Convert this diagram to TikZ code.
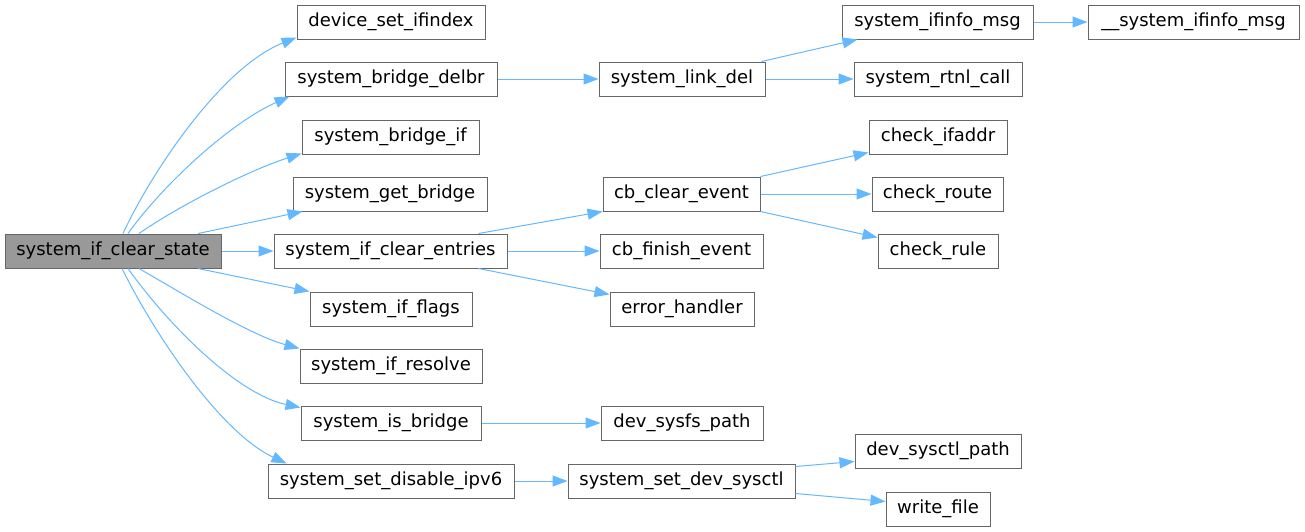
\documentclass[tikz,border=0pt]{standalone}
\usepackage{fontspec}
\setmainfont{DejaVu Sans}
\usetikzlibrary{arrows.meta}
\definecolor{edgeblue}{HTML}{63B8FF}
\definecolor{boxgray}{HTML}{666666}
\definecolor{rootfill}{HTML}{999999}
\begin{document}
\begin{tikzpicture}[x=1pt,y=-1pt,
  fn/.style={draw=boxgray,line width=1pt,fill=white,inner sep=0pt,minimum height=34pt,
    font=\fontsize{18pt}{20pt}\selectfont,text=black},
  rootbox/.style={fn,fill=rootfill},
  call/.style={draw=edgeblue,line width=1pt,-{Triangle[length=15pt,width=11pt]}}]
\useasboundingbox (0,0) rectangle (1305,531);
% column 0
\node[rootbox,minimum width=216pt] (root) at (113,251) {system\_if\_clear\_state};
% column 1
\node[fn,minimum width=188pt] (dsi) at (391,22) {device\_set\_ifindex};
\node[fn,minimum width=212pt] (sbd) at (391,79) {system\_bridge\_delbr};
\node[fn,minimum width=177pt] (sbi) at (390.5,137) {system\_bridge\_if};
\node[fn,minimum width=194pt] (sgb) at (390,194) {system\_get\_bridge};
\node[fn,minimum width=233pt] (sce) at (390.5,251) {system\_if\_clear\_entries};
\node[fn,minimum width=162pt] (sif) at (391,309) {system\_if\_flags};
\node[fn,minimum width=182pt] (sir) at (391,366) {system\_if\_resolve};
\node[fn,minimum width=180pt] (sib) at (391,423) {system\_is\_bridge};
\node[fn,minimum width=246pt] (ssd) at (391,481) {system\_set\_disable\_ipv6};
% column 2
\node[fn,minimum width=166pt] (sld) at (682,79) {system\_link\_del};
\node[fn,minimum width=157pt] (cce) at (681.5,194) {cb\_clear\_event};
\node[fn,minimum width=163pt] (cfe) at (681.5,251) {cb\_finish\_event};
\node[fn,minimum width=144pt] (eh) at (682,309) {error\_handler};
\node[fn,minimum width=162pt] (dsp) at (682,423) {dev\_sysfs\_path};
\node[fn,minimum width=227pt] (sds) at (681.5,481) {system\_set\_dev\_sysctl};
% column 3
\node[fn,minimum width=191pt] (sim) at (937.5,22) {system\_ifinfo\_msg};
\node[fn,minimum width=168pt] (src) at (938,79) {system\_rtnl\_call};
\node[fn,minimum width=138pt] (cia) at (938,137) {check\_ifaddr};
\node[fn,minimum width=131pt] (cro) at (937.5,194) {check\_route};
\node[fn,minimum width=120pt] (cru) at (938,251) {check\_rule};
\node[fn,minimum width=166pt] (dcp) at (938,451) {dev\_sysctl\_path};
\node[fn,minimum width=104pt] (wf) at (938,509) {write\_file};
% column 4
\node[fn,minimum width=211pt] (usim) at (1193.5,22) {\_\_system\_ifinfo\_msg};
% edges from root
\draw[call] ([xshift=10pt]root.north) .. controls (150,175) and (220,68) .. ([yshift=2pt]dsi.south west);
\draw[call] ([xshift=15pt]root.north) .. controls (165,182) and (232,122) .. ([xshift=5pt]sbd.south west);
\draw[call] ([xshift=26pt]root.north) .. controls (180,205) and (250,170) .. ([yshift=1pt]sbi.south west);
\draw[call] ([xshift=85pt]root.north) -- ([xshift=10pt]sgb.south west);
\draw[call] (root.east) -- (sce.west);
\draw[call] ([xshift=85pt]root.south) -- (sif.north west);
\draw[call] ([xshift=26pt]root.south) .. controls (185,295) and (250,335) .. (sir.north west);
\draw[call] ([xshift=15pt]root.south) .. controls (172,330) and (240,395) .. ([yshift=-2pt]sib.north west);
\draw[call] ([xshift=9pt]root.south) .. controls (155,335) and (220,432) .. ([xshift=19pt]ssd.north west);
% other edges
\draw[call] (sbd.east) -- (sld.west);
\draw[call] ([xshift=-4pt]sld.north east) -- ([xshift=16pt]sim.south west);
\draw[call] (sld.east) -- (src.west);
\draw[call] (sim.east) -- (usim.west);
\draw[call] ([xshift=-29pt]sce.north east) -- (cce.south west);
\draw[call] (sce.east) -- (cfe.west);
\draw[call] ([xshift=-29pt]sce.south east) -- ([yshift=-3pt]eh.north west);
\draw[call] (cce.north east) -- ([yshift=2pt]cia.south west);
\draw[call] (cce.east) -- (cro.west);
\draw[call] (cce.south east) -- ([yshift=-4pt]cru.north west);
\draw[call] (sib.east) -- (dsp.west);
\draw[call] (ssd.east) -- (sds.west);
\draw[call] ([yshift=-3pt]sds.north east) -- ([yshift=7pt]dcp.south west);
\draw[call] ([yshift=5pt]sds.south east) -- ([yshift=-10pt]wf.north west);
\end{tikzpicture}
\end{document}
